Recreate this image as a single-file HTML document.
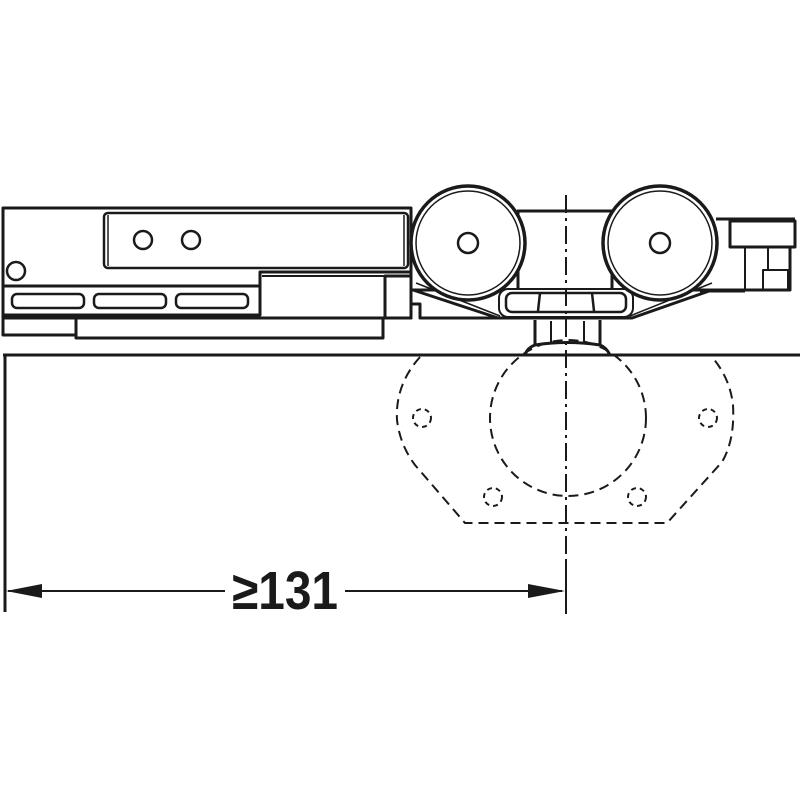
<!DOCTYPE html>
<html><head><style>html,body{margin:0;padding:0;background:#fff}svg{display:block}</style></head>
<body>
<svg width="800" height="800" viewBox="0 0 800 800" xmlns="http://www.w3.org/2000/svg">
<rect width="800" height="800" fill="#fff"/>
<g fill="none" stroke="#1a1a1a" stroke-width="3" stroke-linejoin="round">
<!-- left body -->
<rect x="3" y="208" width="408" height="110"/>
<rect x="104" y="213" width="304" height="55" rx="4" stroke-width="2.5"/>
<line x1="108" y1="215" x2="108" y2="266" stroke-width="1.5"/>
<line x1="404" y1="215" x2="404" y2="266" stroke-width="1.5"/>
<circle cx="143" cy="240" r="9" stroke-width="2.5"/>
<circle cx="191" cy="240" r="9" stroke-width="2.5"/>
<circle cx="16" cy="271" r="9" stroke-width="2.5"/>
<polyline points="3,286 260,286 260,272 410,272"/>
<line x1="262" y1="276" x2="410" y2="276" stroke-width="2"/>
<rect x="12" y="294" width="72" height="14" rx="5" stroke-width="2.5"/>
<rect x="94" y="294" width="72" height="14" rx="5" stroke-width="2.5"/>
<rect x="176" y="294" width="72" height="14" rx="5" stroke-width="2.5"/>
<polyline points="3,315 260,315 260,276"/>
<polyline points="76,315 76,338 383,338 383,318"/>
<polyline points="3,318 3,335 76,335"/>
<rect x="385" y="276" width="26" height="42" fill="#fff"/>
<!-- center block -->
<rect x="518" y="211" width="94" height="100" fill="#fff"/>
<!-- bottom bracket -->
<path d="M413,290 L498,318 L632,318 L712,290 Z" fill="#fff"/>
<polyline points="411,290 411,304 420,304 420,318 500,318"/>
<path d="M416,283 L500,316" stroke-width="1.5"/>
<path d="M712,283 L630,316" stroke-width="1.5"/>
<polyline points="700,291 745,291"/>
<rect x="499" y="289" width="134" height="28" rx="9" stroke-width="2" fill="#fff"/>
<rect x="506" y="293" width="120" height="19" rx="6" stroke-width="2.5" fill="#fff"/>
<line x1="540" y1="293" x2="538" y2="311" stroke-width="2.5"/>
<line x1="592" y1="293" x2="594" y2="311" stroke-width="2.5"/>
<!-- nut -->
<path d="M535,320 L535,345 L600,345 L600,320" fill="#fff"/>
<line x1="551" y1="321" x2="551" y2="346" stroke-width="2"/>
<line x1="584" y1="321" x2="584" y2="346" stroke-width="2"/>
<path d="M535,345 Q527,348 525,355 L610,355 Q606,347 600,345 Q567,340 535,345Z" fill="#fff"/>
<!-- wheels -->
<circle cx="468" cy="243" r="57" fill="#fff" stroke-width="3.5"/>
<circle cx="468" cy="243" r="52" stroke-width="1.5"/>
<circle cx="468" cy="243" r="10" stroke-width="2.5"/>
<circle cx="660" cy="243" r="57" fill="#fff" stroke-width="3.5"/>
<circle cx="660" cy="243" r="52" stroke-width="1.5"/>
<circle cx="660" cy="243" r="10" stroke-width="2.5"/>
<!-- right bracket -->
<polyline points="716,219 795,219"/>
<rect x="730" y="221" width="65" height="26"/>
<polyline points="712,290 790,290 790,247"/>
<line x1="745" y1="247" x2="745" y2="290" stroke-width="2"/>
<line x1="768" y1="247" x2="768" y2="270" stroke-width="2"/>
<rect x="763" y="270" width="25" height="20" stroke-width="2"/>
<!-- floor/door lines -->
<line x1="3" y1="355" x2="800" y2="355" stroke-width="3"/>
<line x1="5" y1="355" x2="5" y2="612" stroke-width="3"/>
</g>
<!-- dashed template -->
<g fill="none" stroke="#1a1a1a" stroke-width="2" stroke-dasharray="10,6">
<path d="M420,357 Q395,385 397,420 Q400,445 415,465 L465,523 L667,523 L722,462 Q735,440 733,405 Q730,378 712,357"/>
<circle cx="568" cy="418" r="78"/>
<circle cx="422" cy="418" r="9" stroke-dasharray="5,4"/>
<circle cx="708" cy="418" r="9" stroke-dasharray="5,4"/>
<circle cx="493" cy="497" r="9" stroke-dasharray="5,4"/>
<circle cx="637" cy="497" r="9" stroke-dasharray="5,4"/>
</g>
<!-- centerline -->
<line x1="566" y1="195" x2="566" y2="614" stroke="#1a1a1a" stroke-width="2" stroke-dasharray="18,5,3,5"/>
<!-- dimension -->
<g stroke="#1a1a1a" stroke-width="2">
<line x1="8" y1="591" x2="225" y2="591"/>
<line x1="345" y1="591" x2="562" y2="591"/>
<line x1="566" y1="560" x2="566" y2="614"/>
</g>
<polygon points="6,591 42,584 42,598" fill="#1a1a1a"/>
<polygon points="565,591 528,584 528,598" fill="#1a1a1a"/>
<text x="232" y="609" font-family="Liberation Sans, sans-serif" font-weight="bold" font-size="54" textLength="106" lengthAdjust="spacingAndGlyphs" fill="#1a1a1a">≥131</text>
</svg>
</body></html>
